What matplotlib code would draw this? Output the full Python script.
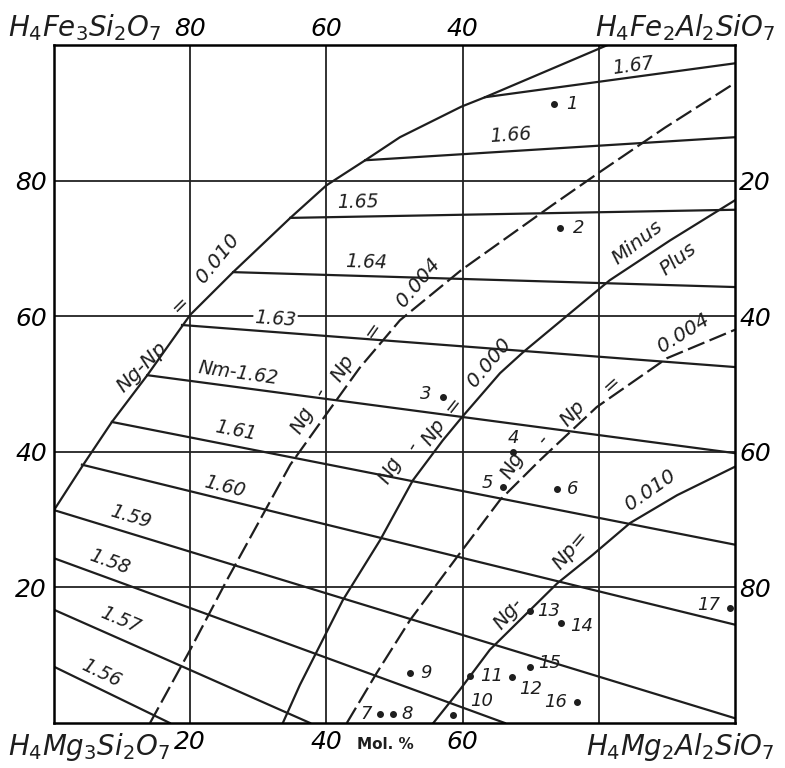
import numpy as np
import matplotlib.pyplot as plt

plt.rcParams['font.family'] = ['DejaVu Sans']
plt.rcParams['mathtext.fontset'] = 'dejavusans'

# grid / tick values (mol. %)
grid_vals = [20, 40, 60, 80]
bottom_ticks = ['20', '40', '60', '']
left_ticks = ['20', '40', '60', '80']

# Nm (refractive index) lines: start and end points
nm_labels = ['1.67', '1.66', '1.65', '1.64', '1.63', 'Nm-1.62', '1.61', '1.60',
             '1.59', '1.58', '1.57', '1.56']
nm_x0 = [63.3, 45.7, 34.7, 26.3, 18.8, 13.7, 8.5, 4.1, 0.0, 0.0, 0.0, 0.0]
nm_y0 = [92.3, 83.0, 74.5, 66.5, 58.7, 51.3, 44.4, 38.1, 31.4, 24.3, 16.7, 8.3]
nm_x1 = [100, 100, 100, 100, 100, 100, 100, 100, 100, 66.2, 37.6, 17.0]
nm_y1 = [97.3, 86.4, 75.7, 64.3, 52.5, 39.8, 26.3, 14.5, 0.7, 0.0, 0.0, 0.0]

# Ng-Np birefringence curves
bir_a_x = [0, 4.3, 8.5, 13.7, 20, 26.3, 34.7, 40.0, 45.7, 50.8, 59.8, 63.3, 81.3]
bir_a_y = [31.4, 38.1, 44.4, 51.3, 60.2, 66.5, 74.5, 79.3, 83.0, 86.4, 90.9, 92.3, 100]
bir_b_x = [14.1, 20, 25.4, 34.7, 40.1, 44.9, 50.8, 59.8, 73.2, 80.2, 89.7, 100]
bir_b_y = [0, 10.8, 21.1, 38.1, 45.7, 52.4, 59.4, 66.8, 76.4, 81.3, 87.8, 94.4]
bir_c_x = [33.6, 36.1, 42.4, 47.9, 52.7, 57.1, 59.9, 65.5, 68.9, 81.6, 90.5, 100]
bir_c_y = [0, 5.6, 18.1, 27.0, 35.8, 41.7, 45.1, 51.6, 54.7, 65.3, 71.2, 77.1]
bir_d_x = [43.0, 47.4, 52.3, 59.2, 65.5, 71.4, 79.7, 90.0, 100]
bir_d_y = [0, 7.4, 15.2, 24.5, 32.9, 38.8, 46.6, 53.8, 58.0]
bir_e_x = [55.7, 59.6, 64.0, 73.9, 79.1, 84.6, 91.5, 100]
bir_e_y = [0, 4.9, 10.8, 20.6, 24.8, 29.5, 33.6, 37.8]

# analysed samples
pt_names = ['1', '2', '3', '4', '5', '6', '7', '8', '9', '10', '11', '12', '13',
            '14', '15', '16', '17']
pt_x = [73.4, 74.3, 57.1, 67.4, 65.9, 73.9, 47.9, 49.8, 52.3, 58.6, 61.1, 67.3,
        69.9, 74.4, 69.9, 76.8, 99.3]
pt_y = [91.3, 73.0, 48.1, 40.0, 34.8, 34.5, 1.3, 1.3, 7.4, 1.2, 6.9, 6.8,
        16.5, 14.7, 8.3, 3.1, 17.0]

fig = plt.figure(figsize=(7.85, 7.68), dpi=100)
ax = fig.add_axes([0.0688, 0.0586, 0.8675, 0.8828])
ax.set_xlim(0, 100)
ax.set_ylim(0, 100)
for s in ax.spines.values():
    s.set_linewidth(1.8)

for g in grid_vals:
    ax.axvline(g, color='#222222', lw=1.3, zorder=1)
    ax.axhline(g, color='#222222', lw=1.3, zorder=1)

ink = '#1e1e1e'
tfont = dict(style='italic', color=ink)

for x0, y0, x1, y1 in zip(nm_x0, nm_y0, nm_x1, nm_y1):
    ax.plot([x0, x1], [y0, y1], color=ink, lw=1.6, zorder=2)

curve_kw = dict(color=ink, lw=1.6, zorder=2, solid_joinstyle='round')
ax.plot(bir_a_x, bir_a_y, **curve_kw)
ax.plot(bir_b_x, bir_b_y, ls=(0, (8, 2.5)), **curve_kw)
ax.plot(bir_c_x, bir_c_y, **curve_kw)
ax.plot(bir_d_x, bir_d_y, ls=(0, (8, 2.5)), **curve_kw)
ax.plot(bir_e_x, bir_e_y, **curve_kw)

# Nm labels
nm_pos = [(85.0, 97.0), (67.0, 86.7), (44.6, 76.8), (45.8, 68.0), (32.5, 59.6),
          (27.0, 51.6), (26.7, 43.2), (25.0, 34.8), (11.2, 30.4), (8.1, 23.7),
          (9.8, 15.2), (7.0, 7.4)]
nm_rot = [7.5, 3.5, 1, -2, -4, -8, -11, -14, -17, -20, -23, -26]
for lab, (tx, ty), r in zip(nm_labels, nm_pos, nm_rot):
    kw = {}
    if lab == '1.63':
        kw['bbox'] = dict(facecolor='white', edgecolor='none', pad=1)
    ax.text(tx, ty, lab, fontsize=13.5, rotation=r, rotation_mode='anchor',
            ha='center', va='center', zorder=4, **tfont, **kw)

# curve labels
curve_txt = [
    ('Ng-Np', 12.9, 52.5, 45), ('=', 18.5, 61.7, 45), ('0.010', 24.1, 68.6, 51),
    ('Ng', 36.4, 44.7, 60), ('-', 39.1, 48.8, 60), ('Np', 42.4, 52.4, 58),
    ('=', 46.8, 58.0, 55), ('0.004', 53.5, 64.9, 50),
    ('Ng', 49.3, 37.3, 60), ('-', 52.6, 40.7, 58), ('Np', 55.7, 42.9, 55),
    ('=', 58.6, 46.9, 52), ('0.000', 63.9, 53.2, 50),
    ('Minus', 85.6, 70.8, 38), ('Plus', 91.6, 68.4, 38),
    ('Ng', 67.3, 38.0, 60), ('-', 71.8, 41.7, 50), ('Np', 76.1, 45.6, 48),
    ('=', 81.9, 50.1, 42), ('0.004', 92.4, 57.5, 32),
    ('Ng-', 66.7, 16.2, 50), ('Np=', 75.8, 25.5, 50), ('0.010', 87.5, 34.4, 35),
]
for lab, tx, ty, r in curve_txt:
    ax.text(tx, ty, lab, fontsize=14.5, rotation=r, rotation_mode='anchor',
            ha='center', va='center', zorder=4, **tfont)

# sample points
pt_off = [(9, 0, 'left'), (9, 0, 'left'), (-8, 2, 'right'), (0, 10, 'center'),
          (-7, 3, 'right'), (7, 0, 'left'), (-6, 0, 'right'), (6, 0, 'left'),
          (7, 0, 'left'), (12, 10, 'left'), (7, 0, 'left'), (5, -9, 'left'),
          (5, 0, 'left'), (7, -2, 'left'), (6, 3, 'left'), (-7, 0, 'right'),
          (-7, 2, 'right')]
ax.scatter(pt_x, pt_y, s=16, color=ink, zorder=5)
for n, x, y, (dx, dy, ha) in zip(pt_names, pt_x, pt_y, pt_off):
    ax.annotate(n, (x, y), xytext=(dx, dy), textcoords='offset points',
                ha=ha, va='center', fontsize=13, zorder=5, **tfont)

# axes ticks
ax.set_xticks(grid_vals, bottom_ticks)
ax.set_yticks(grid_vals, left_ticks)
ax.tick_params(length=0, labelsize=18, pad=5)
for t in ax.get_xticklabels() + ax.get_yticklabels():
    t.set_style('italic')
top = ax.secondary_xaxis('top', functions=(lambda v: 100 - v, lambda v: 100 - v))
top.set_xticks([80, 60, 40], ['80', '60', '40'])
top.tick_params(length=0, labelsize=18, pad=3)
right = ax.secondary_yaxis('right', functions=(lambda v: 100 - v, lambda v: 100 - v))
right.set_yticks([80, 60, 40, 20], ['80', '60', '40', '20'])
right.tick_params(length=0, labelsize=18, pad=3)
for t in top.get_xticklabels() + right.get_yticklabels():
    t.set_style('italic')
for s in list(top.spines.values()) + list(right.spines.values()):
    s.set_visible(False)

ax.text(0.487, -0.032, 'Mol. %', transform=ax.transAxes, fontsize=11,
        weight='bold', ha='center', va='center', color=ink)

# end-member compositions
ax.text(-0.068, 1.003, r'$H_4Fe_3Si_2O_7$', transform=ax.transAxes,
        fontsize=20, ha='left', va='bottom', color=ink)
ax.text(1.058, 1.003, r'$H_4Fe_2Al_2SiO_7$', transform=ax.transAxes,
        fontsize=20, ha='right', va='bottom', color=ink)
ax.text(-0.068, -0.012, r'$H_4Mg_3Si_2O_7$', transform=ax.transAxes,
        fontsize=20, ha='left', va='top', color=ink)
ax.text(1.058, -0.012, r'$H_4Mg_2Al_2SiO_7$', transform=ax.transAxes,
        fontsize=20, ha='right', va='top', color=ink)

fig.savefig('out.png', dpi=100, facecolor='white')
